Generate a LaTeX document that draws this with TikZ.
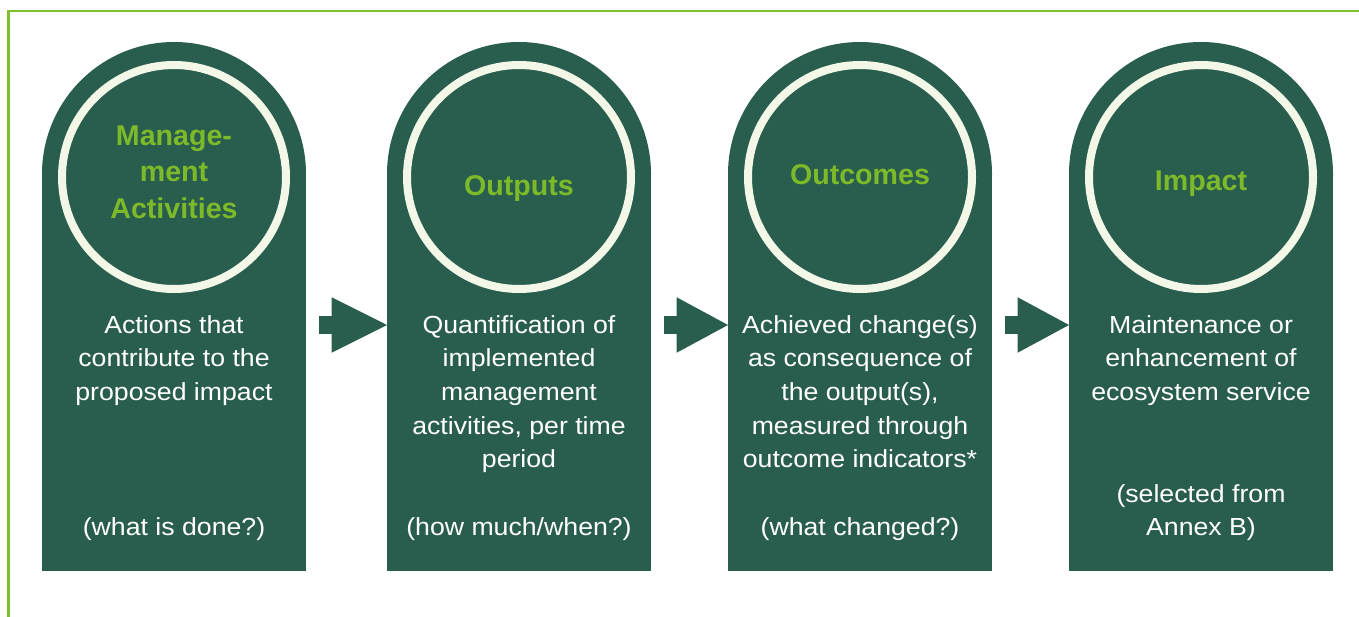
\documentclass[tikz,border=0pt]{standalone}
\usepackage{fontspec}
\setmainfont{Liberation Sans}
\newfontfamily\bodyfont[FakeStretch=1.08]{Liberation Sans}
\usetikzlibrary{calc}
\definecolor{colgreen}{HTML}{295D4D}
\definecolor{titlegreen}{HTML}{7DBA2A}
\definecolor{ringcream}{HTML}{F2F7E8}
\definecolor{framegreen}{HTML}{7DC02B}
\tikzset{
  bodytext/.style={text=white,align=center,inner sep=0pt,anchor=base,
    font=\bodyfont\fontsize{24.7}{33.6}\selectfont},
  titletext/.style={text=titlegreen,align=center,inner sep=0pt,anchor=base,
    font=\fontsize{28.6}{36.7}\selectfont\bfseries},
  ring/.style={draw=ringcream,line width=8pt},
  colfill/.style={fill=colgreen},
  blockarrow/.style={fill=colgreen}
}
\newcommand{\mycolumn}[2]{%
  \coordinate (#2L) at (#1,571);
  \coordinate (#2R) at (#1+264,571);
  \coordinate (#2C) at (#1+132,177);
  \fill[colfill] (#1,571) rectangle (#1+264,174);
  \fill[colfill] (#1+132,174) circle[radius=132];
  \draw[ring] (#2C) circle[radius=112];
}
\newcommand{\myarrow}[2]{%
  \fill[blockarrow] ($(#1R)+(13.3,-237)$) rectangle ($(#1R)+(25.7,-255.3)$);
  \fill[blockarrow] ($(#1R)+(25.7,-273.7)$) -- ($(#2L)+(0,-246)$) -- ($(#1R)+(25.7,-218.3)$) -- cycle;
}
\begin{document}
\begin{tikzpicture}[x=1pt,y=-1pt]
\useasboundingbox (0,0) rectangle (1359,616);
\draw[framegreen,line width=2.5pt] (8.5,618) -- (8.5,11) -- (1362,11);
\mycolumn{42}{a}
\mycolumn{387}{b}
\mycolumn{728}{c}
\mycolumn{1069}{d}
\myarrow{a}{b}
\myarrow{b}{c}
\myarrow{c}{d}
% titles (anchor = baseline of last line)
\node[titletext] (ta) at (174,218.4) {Manage-\\ment\\Activities};
\node[titletext] (tb) at (519,195) {Outputs};
\node[titletext] (tc) at (860,184) {Outcomes};
\node[titletext] (td) at (1201,190) {Impact};
% bodies
\node[bodytext] (ba) at (174,400.5) {Actions that\\contribute to the\\proposed impact};
\node[bodytext] (bb) at (519,467.7) {Quantification of\\implemented\\management\\activities, per time\\period};
\node[bodytext] (bc) at (860,467.7) {Achieved change(s)\\as consequence of\\the output(s),\\measured through\\outcome indicators*};
\node[bodytext] (bd) at (1201,400.5) {Maintenance or\\enhancement of\\ecosystem service};
% bottom notes
\node[bodytext] (qa) at (174,535) {(what is done?)};
\node[bodytext] (qb) at (519,535) {(how much/when?)};
\node[bodytext] (qc) at (860,535) {(what changed?)};
\node[bodytext] (qd) at (1201,535.6) {(selected from\\Annex B)};
\end{tikzpicture}
\end{document}
